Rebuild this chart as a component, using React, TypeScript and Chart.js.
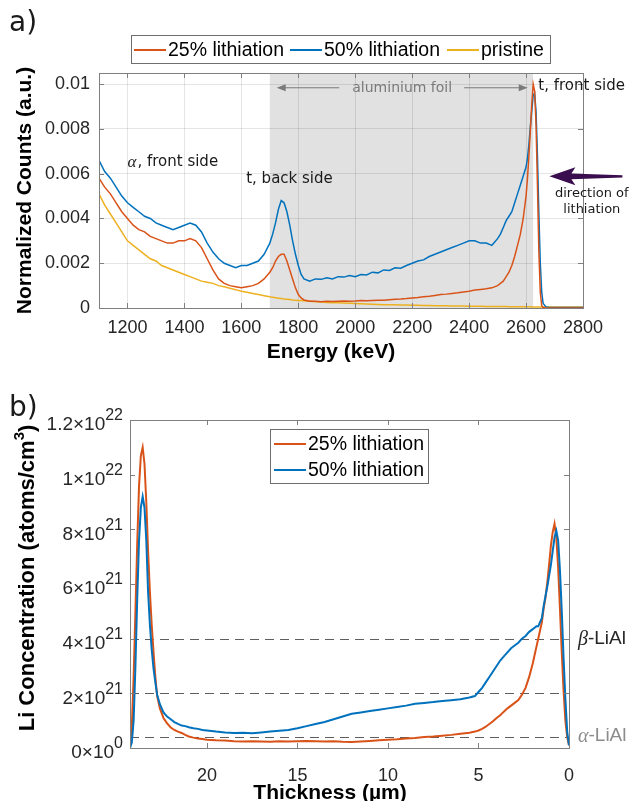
import React, { useEffect, useRef } from 'react';
import { Chart, registerables } from 'chart.js';

Chart.register(...registerables);

const ORANGE = '#D95319';
const BLUE = '#0072BD';
const YELLOW = '#EDB120';
const SANS = "'Liberation Sans', Arial, Helvetica, sans-serif";
const DEJAVU = "'DejaVu Sans', sans-serif";
const SERIF = "'Liberation Serif', 'DejaVu Serif', serif";

// ---------- a) spectra ----------
const energyKeV = [
  1100, 1120, 1140, 1160, 1180, 1200, 1220, 1240, 1260, 1280,
  1300, 1320, 1340, 1360, 1380, 1400, 1420, 1440, 1460, 1480,
  1500, 1520, 1540, 1560, 1580, 1600, 1620, 1640, 1660, 1680,
  1700, 1710, 1720, 1730, 1740, 1750, 1760, 1770, 1780, 1790,
  1800, 1810, 1820, 1840, 1860, 1880, 1900, 1920, 1940, 1960,
  1980, 2000, 2020, 2040, 2060, 2080, 2100, 2120, 2140, 2160,
  2180, 2200, 2220, 2240, 2260, 2280, 2300, 2320, 2340, 2360,
  2380, 2400, 2420, 2440, 2460, 2480, 2500, 2510, 2520, 2530,
  2540, 2550, 2560, 2570, 2580, 2590, 2600, 2605, 2610, 2615,
  2620, 2625, 2630, 2635, 2640, 2645, 2650, 2655, 2660, 2670,
  2680, 2700, 2720, 2740, 2760, 2780, 2800,
];

const counts25 = [
  0.0058, 0.0054, 0.0051, 0.0047, 0.0043, 0.0040, 0.0037, 0.0035, 0.0034, 0.0032,
  0.0031, 0.0030, 0.0029, 0.0029, 0.0030, 0.0030, 0.0031, 0.0030, 0.0027, 0.0022,
  0.0017, 0.0013, 0.0011, 0.0010, 0.00095, 0.0009, 0.00095, 0.0010, 0.0011, 0.0013,
  0.0016, 0.0018, 0.0021, 0.0023, 0.0024, 0.0024, 0.0021, 0.0017, 0.0013, 0.0009,
  0.0006, 0.00045, 0.00036, 0.0003, 0.0003, 0.00028, 0.0003, 0.00029, 0.0003, 0.00031,
  0.0003, 0.00031, 0.00033, 0.00032, 0.00034, 0.00035, 0.00035, 0.00037, 0.00039, 0.0004,
  0.00042, 0.00045, 0.00047, 0.0005, 0.00052, 0.00056, 0.0006, 0.00062, 0.00065, 0.00068,
  0.00072, 0.00075, 0.0008, 0.00083, 0.00086, 0.0009, 0.001, 0.0011, 0.0012, 0.0014,
  0.0016, 0.0019, 0.0023, 0.0028, 0.0033, 0.0040, 0.0050, 0.0058, 0.0068, 0.0079,
  0.0091, 0.0100, 0.0097, 0.0082, 0.0055, 0.0025, 0.0007, 0.0001, 0.00002, 0,
  0, 0, 0, 0, 0, 0, 0,
];

const counts50 = [
  0.0066, 0.0061, 0.0058, 0.0054, 0.0050, 0.0047, 0.0045, 0.0043, 0.0041, 0.0040,
  0.0038, 0.0037, 0.0036, 0.0035, 0.0036, 0.0037, 0.0038, 0.0037, 0.0034, 0.0029,
  0.0025, 0.0022, 0.0020, 0.0019, 0.0018, 0.0019, 0.0019, 0.0020, 0.0021, 0.0024,
  0.0029, 0.0033, 0.0038, 0.0044, 0.0048, 0.0047, 0.0043, 0.0037, 0.0030, 0.0024,
  0.0019, 0.0015, 0.0013, 0.0012, 0.0013, 0.00128, 0.00135, 0.0013, 0.0014, 0.00138,
  0.00145, 0.0014, 0.0015, 0.00148, 0.0016, 0.00157, 0.0017, 0.00168, 0.0018, 0.00178,
  0.0019, 0.0020, 0.0021, 0.00215, 0.0023, 0.0024, 0.0025, 0.0026, 0.0027, 0.0028,
  0.0029, 0.0030, 0.0030, 0.0029, 0.0029, 0.0028, 0.0031, 0.0033, 0.0036, 0.0039,
  0.0041, 0.0043, 0.0047, 0.0051, 0.0055, 0.0059, 0.0063, 0.0067, 0.0073, 0.0081,
  0.0088, 0.0095, 0.0096, 0.0088, 0.0068, 0.0042, 0.0020, 0.0007, 0.0002, 0.00005,
  0.00003, 0.00002, 0.00002, 0.00002, 0.00002, 0.00002, 0.00002,
];

const countsPristine = [
  0.0051, 0.0046, 0.0042, 0.0038, 0.0034, 0.0030, 0.0028, 0.0026, 0.0024, 0.0022,
  0.0021, 0.0019, 0.0018, 0.0017, 0.0016, 0.0015, 0.0014, 0.0013, 0.0012, 0.00115,
  0.0011, 0.0010, 0.00095, 0.00088, 0.00082, 0.00075, 0.0007, 0.00065, 0.0006, 0.00055,
  0.0005, 0.00048, 0.00046, 0.00044, 0.00042, 0.0004, 0.00039, 0.00038, 0.00036, 0.00035,
  0.00034, 0.00033, 0.00032, 0.0003, 0.00028, 0.00027, 0.00025, 0.00024, 0.00023, 0.00022,
  0.00021, 0.0002, 0.00019, 0.00018, 0.00017, 0.00016, 0.00015, 0.00015, 0.00014, 0.00013,
  0.00013, 0.00012, 0.00012, 0.00011, 0.00011, 0.0001, 0.0001, 0.0001, 0.00009, 0.00009,
  0.00009, 0.00008, 0.00008, 0.00008, 0.00007, 0.00007, 0.00007, 0.00007, 0.00007, 0.00007,
  0.00006, 0.00006, 0.00006, 0.00006, 0.00006, 0.00006, 0.00006, 0.00006, 0.00006, 0.00006,
  0.00005, 0.00005, 0.00005, 0.00005, 0.00005, 0.00005, 0.00005, 0.00005, 0.00005, 0.00005,
  0.00004, 0.00004, 0.00004, 0.00004, 0.00004, 0.00004, 0.00004,
];

const energyTicks = [1200, 1400, 1600, 1800, 2000, 2200, 2400, 2600, 2800];
const countTicks = [0, 0.002, 0.004, 0.006, 0.008, 0.01];
const countTickLabels = ['0', '0.002', '0.004', '0.006', '0.008', '0.01'];
const foilBand = [1700, 2625];

// ---------- b) depth profile ----------
const thicknessUm = [
  24.25, 24.15, 24.05, 23.95, 23.85, 23.75, 23.65, 23.55, 23.45, 23.35,
  23.25, 23.15, 23.05, 22.95, 22.85, 22.75, 22.6, 22.4, 22.2, 22.0,
  21.8, 21.6, 21.4, 21.2, 21.0, 20.75, 20.5, 20.25, 20, 19.5,
  19, 18.5, 18, 17.5, 17, 16.5, 16, 15.5, 15, 14.5,
  14, 13.5, 13, 12.5, 12, 11.5, 11, 10.5, 10, 9.5,
  9, 8.5, 8, 7.5, 7, 6.5, 6, 5.5, 5.2, 5.0,
  4.8, 4.6, 4.4, 4.2, 4.0, 3.8, 3.6, 3.4, 3.2, 3.0,
  2.8, 2.6, 2.4, 2.2, 2.0, 1.9, 1.8, 1.7, 1.6, 1.5,
  1.4, 1.3, 1.2, 1.1, 1.0, 0.9, 0.8, 0.7, 0.6, 0.5,
  0.4, 0.3, 0.2, 0.1, 0.0,
];

const li25 = [
  0.2e21, 0.8e21, 2.6e21, 5.0e21, 7.5e21, 9.6e21, 10.7e21, 11.0e21, 10.4e21, 9.0e21,
  7.2e21, 5.7e21, 4.5e21, 3.5e21, 2.6e21, 1.9e21, 1.45e21, 1.1e21, 0.9e21, 0.75e21,
  0.66e21, 0.6e21, 0.55e21, 0.48e21, 0.42e21, 0.38e21, 0.35e21, 0.33e21, 0.3e21, 0.28e21,
  0.27e21, 0.25e21, 0.24e21, 0.25e21, 0.24e21, 0.23e21, 0.25e21, 0.24e21, 0.25e21, 0.26e21,
  0.25e21, 0.24e21, 0.25e21, 0.23e21, 0.22e21, 0.24e21, 0.26e21, 0.28e21, 0.3e21, 0.32e21,
  0.35e21, 0.37e21, 0.4e21, 0.42e21, 0.45e21, 0.48e21, 0.52e21, 0.56e21, 0.6e21, 0.64e21,
  0.7e21, 0.78e21, 0.88e21, 0.98e21, 1.1e21, 1.2e21, 1.33e21, 1.45e21, 1.55e21, 1.65e21,
  1.75e21, 1.95e21, 2.2e21, 2.6e21, 3.1e21, 3.4e21, 3.7e21, 4.0e21, 4.3e21, 4.6e21,
  5.1e21, 5.5e21, 6.05e21, 6.7e21, 7.4e21, 7.9e21, 8.2e21, 7.7e21, 6.6e21, 5.1e21,
  3.5e21, 2.1e21, 1.0e21, 0.4e21, 0.1e21,
];

const li50 = [
  0.0, 0.2e21, 1.0e21, 3.0e21, 5.5e21, 7.6e21, 8.8e21, 9.2e21, 8.8e21, 7.6e21,
  5.7e21, 4.5e21, 3.6e21, 2.9e21, 2.4e21, 1.95e21, 1.6e21, 1.3e21, 1.15e21, 1.05e21,
  0.95e21, 0.88e21, 0.82e21, 0.8e21, 0.76e21, 0.72e21, 0.7e21, 0.66e21, 0.64e21, 0.6e21,
  0.57e21, 0.55e21, 0.56e21, 0.54e21, 0.57e21, 0.6e21, 0.63e21, 0.66e21, 0.72e21, 0.8e21,
  0.88e21, 0.95e21, 1.05e21, 1.15e21, 1.25e21, 1.3e21, 1.35e21, 1.4e21, 1.45e21, 1.5e21,
  1.55e21, 1.62e21, 1.65e21, 1.68e21, 1.72e21, 1.75e21, 1.78e21, 1.85e21, 1.9e21, 2.05e21,
  2.2e21, 2.4e21, 2.6e21, 2.8e21, 3.0e21, 3.2e21, 3.35e21, 3.5e21, 3.65e21, 3.75e21,
  3.85e21, 4.0e21, 4.1e21, 4.25e21, 4.35e21, 4.4e21, 4.45e21, 4.45e21, 4.6e21, 4.75e21,
  5.2e21, 5.55e21, 5.9e21, 6.3e21, 6.7e21, 7.2e21, 7.7e21, 7.95e21, 7.6e21, 6.5e21,
  5.0e21, 3.3e21, 1.8e21, 0.6e21, 0.1e21,
];

const thicknessTicks = [0, 5, 10, 15, 20];
const liTicks = [0, 2e21, 4e21, 6e21, 8e21, 1e22, 1.2e22];
const liTickBase = ['0\u00d710', '2\u00d710', '4\u00d710', '6\u00d710', '8\u00d710', '1\u00d710', '1.2\u00d710'];
const liTickExp = ['0', '21', '21', '21', '21', '22', '22'];
const phaseLevels = [4e21, 2e21, 0.4e21];

function drawFrame(chart: any, color: string) {
  const { ctx, chartArea: ca, scales } = chart;
  const xs = scales.x;
  const ys = scales.y;
  ctx.save();
  ctx.strokeStyle = color;
  ctx.lineWidth = 1;
  ctx.beginPath();
  for (const t of xs.ticks) {
    const px = Math.round(xs.getPixelForValue(t.value)) + 0.5;
    ctx.moveTo(px, ca.bottom);
    ctx.lineTo(px, ca.bottom - 5);
    ctx.moveTo(px, ca.top);
    ctx.lineTo(px, ca.top + 5);
  }
  for (const t of ys.ticks) {
    const py = Math.round(ys.getPixelForValue(t.value)) + 0.5;
    ctx.moveTo(ca.left, py);
    ctx.lineTo(ca.left + 5, py);
    ctx.moveTo(ca.right, py);
    ctx.lineTo(ca.right - 5, py);
  }
  ctx.stroke();
  ctx.strokeRect(
    Math.round(ca.left) + 0.5,
    Math.round(ca.top) + 0.5,
    Math.round(ca.right - ca.left),
    Math.round(ca.bottom - ca.top)
  );
  ctx.restore();
}

function drawLegend(chart: any, box: number[], rows: { x: number; y: number }[], fontSize: number) {
  const { ctx } = chart;
  ctx.save();
  ctx.fillStyle = '#ffffff';
  ctx.fillRect(box[0], box[1], box[2], box[3]);
  ctx.strokeStyle = '#6e6e6e';
  ctx.lineWidth = 1;
  ctx.strokeRect(box[0] + 0.5, box[1] + 0.5, box[2], box[3]);
  ctx.font = `${fontSize}px ${SANS}`;
  ctx.textBaseline = 'middle';
  ctx.textAlign = 'left';
  chart.data.datasets.forEach((ds: any, i: number) => {
    const r = rows[i];
    ctx.strokeStyle = ds.borderColor;
    ctx.lineWidth = 2;
    ctx.beginPath();
    ctx.moveTo(r.x, r.y);
    ctx.lineTo(r.x + 32, r.y);
    ctx.stroke();
    ctx.fillStyle = '#000';
    ctx.fillText(ds.label, r.x + 34, r.y + 1);
  });
  ctx.restore();
}

function arrowHead(ctx: any, x: number, y: number, dir: number) {
  ctx.beginPath();
  ctx.moveTo(x, y);
  ctx.lineTo(x - dir * 9, y - 3.5);
  ctx.lineTo(x - dir * 9, y + 3.5);
  ctx.closePath();
  ctx.fill();
}

const pluginA = {
  id: 'spectrumDecor',
  beforeDraw(chart: any) {
    const { ctx, chartArea: ca, scales } = chart;
    const x0 = scales.x.getPixelForValue(foilBand[0]);
    const x1 = scales.x.getPixelForValue(foilBand[1]);
    ctx.save();
    ctx.fillStyle = '#e1e1e1';
    ctx.fillRect(x0, ca.top, x1 - x0, ca.bottom - ca.top);
    ctx.restore();
  },
  afterDraw(chart: any) {
    const { ctx, chartArea: ca, scales } = chart;
    const xs = scales.x;
    const ys = scales.y;
    drawFrame(chart, '#7f7f7f');

    // aluminium foil
    ctx.save();
    const fy = ys.getPixelForValue(0.00984);
    const fl = xs.getPixelForValue(1724);
    const fr = xs.getPixelForValue(2606);
    ctx.font = `14px ${DEJAVU}`;
    const label = 'aluminium foil';
    const tw = ctx.measureText(label).width;
    const cx = (fl + fr) / 2;
    ctx.fillStyle = '#7a7a7a';
    ctx.strokeStyle = '#7a7a7a';
    ctx.textAlign = 'center';
    ctx.textBaseline = 'middle';
    ctx.fillText(label, cx, fy + 1);
    ctx.lineWidth = 1;
    ctx.beginPath();
    ctx.moveTo(fl + 4, fy);
    ctx.lineTo(cx - tw / 2 - 13, fy);
    ctx.moveTo(cx + tw / 2 + 12, fy);
    ctx.lineTo(fr - 4, fy);
    ctx.stroke();
    arrowHead(ctx, fl, fy, -1);
    arrowHead(ctx, fr, fy, 1);

    // text annotations
    ctx.fillStyle = '#1a1a1a';
    ctx.textAlign = 'left';
    let ax = xs.getPixelForValue(1200);
    let ay = ys.getPixelForValue(0.00652);
    ctx.font = `italic 17px ${SERIF}`;
    ctx.fillText('\u03b1', ax, ay);
    const aw = ctx.measureText('\u03b1').width;
    ctx.font = `15px ${DEJAVU}`;
    ctx.fillText(', front side', ax + aw + 1, ay);

    ctx.fillText('t, back side', xs.getPixelForValue(1617), ys.getPixelForValue(0.00576));
    ctx.fillText('t, front side', xs.getPixelForValue(2643), ys.getPixelForValue(0.00991));

    // direction of lithiation arrow
    const tx = xs.getPixelForValue(2682);
    const ty = ys.getPixelForValue(0.00589);
    ctx.fillStyle = '#3a0d4e';
    ctx.beginPath();
    ctx.moveTo(tx, ty);
    ctx.lineTo(tx + 26, ty - 9);
    ctx.lineTo(tx + 22, ty - 2.8);
    ctx.lineTo(tx + 73, ty - 1);
    ctx.lineTo(tx + 73, ty + 1.2);
    ctx.lineTo(tx + 22, ty + 3);
    ctx.lineTo(tx + 26, ty + 9);
    ctx.closePath();
    ctx.fill();

    ctx.fillStyle = '#1a1a1a';
    ctx.textAlign = 'center';
    ctx.font = `13px ${DEJAVU}`;
    const dx = xs.getPixelForValue(2831);
    ctx.fillText('direction of', dx, ys.getPixelForValue(0.00513));
    ctx.fillText('lithiation', dx, ys.getPixelForValue(0.00438));

    // panel letter
    ctx.textAlign = 'left';
    ctx.fillStyle = '#1a1a1a';
    ctx.font = `28px ${DEJAVU}`;
    ctx.fillText('a)', 9, 24);

    // axis titles
    ctx.fillStyle = '#000';
    ctx.font = `bold 21px ${SANS}`;
    ctx.textAlign = 'center';
    ctx.fillText('Energy (keV)', 331, 352);
    ctx.translate(25, (ca.top + ca.bottom) / 2);
    ctx.rotate(-Math.PI / 2);
    ctx.fillText('Normalized Counts (a.u.)', 0, 0);
    ctx.restore();

    drawLegend(chart, [131, 35, 419, 28], [{ x: 134, y: 50 }, { x: 290, y: 50 }, { x: 447, y: 50 }], 19.5);
  },
};

const pluginB = {
  id: 'profileDecor',
  beforeDatasetsDraw(chart: any) {
    const { ctx, chartArea: ca, scales } = chart;
    ctx.save();
    ctx.strokeStyle = '#5e5e5e';
    ctx.lineWidth = 1.2;
    ctx.setLineDash([9, 6]);
    for (const v of phaseLevels) {
      const py = Math.round(scales.y.getPixelForValue(v)) + 0.5;
      ctx.beginPath();
      ctx.moveTo(ca.left, py);
      ctx.lineTo(ca.right, py);
      ctx.stroke();
    }
    ctx.restore();
  },
  afterDraw(chart: any) {
    const { ctx, chartArea: ca, scales } = chart;
    const ys = scales.y;
    drawFrame(chart, '#7f7f7f');
    ctx.save();

    // y tick labels with exponents
    const xr = ca.left - 7;
    liTicks.forEach((v, i) => {
      const py = ys.getPixelForValue(v);
      ctx.fillStyle = '#262626';
      ctx.textBaseline = 'middle';
      ctx.font = `16px ${SANS}`;
      const ew = ctx.measureText(liTickExp[i]).width;
      ctx.textAlign = 'left';
      ctx.fillText(liTickExp[i], xr - ew, py - 4);
      ctx.font = `19px ${SANS}`;
      ctx.textAlign = 'right';
      ctx.fillText(liTickBase[i], xr - ew, py + 5);
    });

    // phase labels
    ctx.textAlign = 'left';
    ctx.textBaseline = 'middle';
    const lx = ca.right + 9;
    const by = ys.getPixelForValue(phaseLevels[0]);
    ctx.fillStyle = '#262626';
    ctx.font = `italic 20px ${SERIF}`;
    ctx.fillText('\u03b2', lx, by + 1);
    let w = ctx.measureText('\u03b2').width;
    ctx.font = `19px ${SANS}`;
    ctx.fillText('-LiAl', lx + w, by);
    const alY = ys.getPixelForValue(phaseLevels[2]) - 1;
    ctx.fillStyle = '#8c8c8c';
    ctx.font = `italic 20px ${SERIF}`;
    ctx.fillText('\u03b1', lx, alY + 1);
    w = ctx.measureText('\u03b1').width;
    ctx.font = `19px ${SANS}`;
    ctx.fillText('-LiAl', lx + w, alY);

    // panel letter
    ctx.fillStyle = '#1a1a1a';
    ctx.font = `28px ${DEJAVU}`;
    ctx.fillText('b)', 9, 34);

    // axis titles
    ctx.fillStyle = '#000';
    ctx.textAlign = 'center';
    ctx.font = `bold 21px ${SANS}`;
    ctx.fillText('Thickness (\u00b5m)', 330, 418);

    ctx.translate(28, 203);
    ctx.rotate(-Math.PI / 2);
    const main = 'Li Concentration (atoms/cm';
    ctx.font = `bold 22px ${SANS}`;
    const w1 = ctx.measureText(main).width;
    const w3 = ctx.measureText(')').width;
    ctx.font = `bold 15px ${SANS}`;
    const w2 = ctx.measureText('3').width;
    const start = -(w1 + w2 + w3) / 2;
    ctx.textAlign = 'left';
    ctx.font = `bold 22px ${SANS}`;
    ctx.fillText(main, start, 0);
    ctx.fillText(')', start + w1 + w2, 0);
    ctx.font = `bold 15px ${SANS}`;
    ctx.fillText('3', start + w1, -8);
    ctx.restore();

    drawLegend(chart, [270, 429 - 375, 158, 54], [{ x: 274, y: 444 - 375 }, { x: 274, y: 470 - 375 }], 19.5);
  },
};

export default function App() {
  const refA = useRef<HTMLCanvasElement>(null);
  const refB = useRef<HTMLCanvasElement>(null);

  useEffect(() => {
    const tickFont = { family: SANS, size: 18 };
    const chartA = new Chart(refA.current as HTMLCanvasElement, {
      type: 'line',
      data: {
        datasets: [
          { label: '25% lithiation', data: energyKeV.map((e, i) => ({ x: e, y: counts25[i] })), borderColor: ORANGE, borderWidth: 1.5, pointRadius: 0, tension: 0 },
          { label: '50% lithiation', data: energyKeV.map((e, i) => ({ x: e, y: counts50[i] })), borderColor: BLUE, borderWidth: 1.5, pointRadius: 0, tension: 0 },
          { label: 'pristine', data: energyKeV.map((e, i) => ({ x: e, y: countsPristine[i] })), borderColor: YELLOW, borderWidth: 1.5, pointRadius: 0, tension: 0 },
        ],
      },
      options: {
        animation: false,
        responsive: false,
        events: [],
        layout: { padding: { left: 0, right: 49, top: 73, bottom: 0 } },
        plugins: { legend: { display: false }, tooltip: { enabled: false } },
        scales: {
          x: {
            type: 'linear',
            min: 1100,
            max: 2800,
            afterBuildTicks: (s: any) => { s.ticks = energyTicks.map((v) => ({ value: v })); },
            afterFit: (s: any) => { s.height = 67; },
            grid: { color: 'rgba(0,0,0,0.1)', drawTicks: false },
            border: { display: false },
            ticks: { color: '#262626', font: tickFont, padding: 9, maxRotation: 0, autoSkip: false, callback: (v: any) => String(v) },
          },
          y: {
            type: 'linear',
            min: 0,
            max: 0.0105,
            afterBuildTicks: (s: any) => { s.ticks = countTicks.map((v) => ({ value: v })); },
            afterFit: (s: any) => { s.width = 99; },
            grid: { color: 'rgba(0,0,0,0.1)', drawTicks: false },
            border: { display: false },
            ticks: { color: '#262626', font: tickFont, padding: 9, autoSkip: false, callback: (_v: any, i: number) => countTickLabels[i] },
          },
        },
      },
      plugins: [pluginA],
    } as any);

    const chartB = new Chart(refB.current as HTMLCanvasElement, {
      type: 'line',
      data: {
        datasets: [
          { label: '25% lithiation', data: thicknessUm.map((t, i) => ({ x: t, y: li25[i] })), borderColor: ORANGE, borderWidth: 2, pointRadius: 0, tension: 0, order: 1 },
          { label: '50% lithiation', data: thicknessUm.map((t, i) => ({ x: t, y: li50[i] })), borderColor: BLUE, borderWidth: 2, pointRadius: 0, tension: 0, order: 0 },
        ],
      },
      options: {
        animation: false,
        responsive: false,
        events: [],
        layout: { padding: { left: 0, right: 63, top: 45, bottom: 0 } },
        plugins: { legend: { display: false }, tooltip: { enabled: false } },
        scales: {
          x: {
            type: 'linear',
            reverse: true,
            min: 0,
            max: 24.25,
            afterBuildTicks: (s: any) => { s.ticks = thicknessTicks.map((v) => ({ value: v })); },
            afterFit: (s: any) => { s.height = 53; },
            grid: { display: false },
            border: { display: false },
            ticks: { color: '#262626', font: tickFont, padding: 9, maxRotation: 0, autoSkip: false, callback: (v: any) => String(v) },
          },
          y: {
            type: 'linear',
            min: 0,
            max: 1.2e22,
            afterBuildTicks: (s: any) => { s.ticks = liTicks.map((v) => ({ value: v })); },
            afterFit: (s: any) => { s.width = 130; },
            grid: { display: false },
            border: { display: false },
            ticks: { display: false },
          },
        },
      },
      plugins: [pluginB],
    } as any);

    return () => {
      chartA.destroy();
      chartB.destroy();
    };
  }, []);

  return (
    <div style={{ position: 'absolute', left: 0, top: 0, width: 632, height: 801, background: '#ffffff' }}>
      <canvas ref={refA} width={632} height={375} style={{ position: 'absolute', left: 0, top: 0 }} />
      <canvas ref={refB} width={632} height={426} style={{ position: 'absolute', left: 0, top: 375 }} />
    </div>
  );
}
